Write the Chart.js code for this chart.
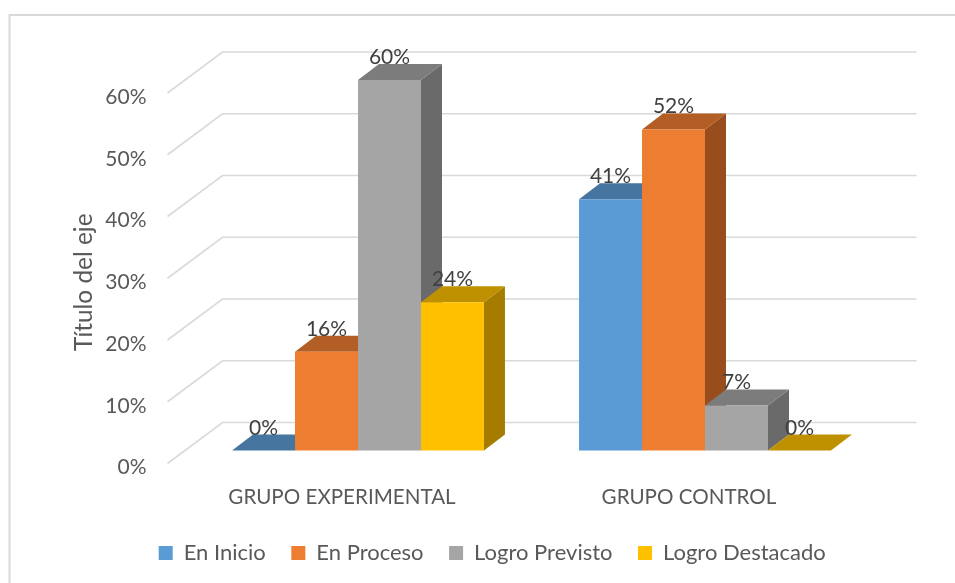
<!DOCTYPE html>
<html>
<head>
<meta charset="utf-8">
<title>Grupos</title>
<script src="https://cdn.jsdelivr.net/npm/chart.js@4"></script>
<style>
  html, body { margin: 0; padding: 0; background: #fff; }
  #wrap { width: 955px; height: 583px; }
</style>
</head>
<body>
<div id="wrap"><canvas id="chart" width="955" height="583"></canvas></div>
<script>
// valores (%)
var categories = ['GRUPO EXPERIMENTAL', 'GRUPO CONTROL'];
var seriesNames = ['En Inicio', 'En Proceso', 'Logro Previsto', 'Logro Destacado'];
var enInicio = [0, 40.7];
var enProceso = [16, 52];
var logroPrevisto = [60, 7.3];
var logroDestacado = [24, 0];

var frontColors = ['#5B9BD5', '#ED7D31', '#A5A5A5', '#FFC000'];
var topColors = ['#4675A0', '#B25E25', '#7C7C7C', '#BF9000'];
var sideColors = ['#3C6690', '#984E1C', '#6A6A6A', '#A67C00'];

var FONT = 'Lato, "Open Sans", sans-serif';
var DEPTH_X = 21, DEPTH_Y = 16;     // fondo de cada barra
var LABEL_DY = -4;                  // las etiquetas del eje quedan algo debajo de la rejilla
var BAR_DX = 16, BAR_DY = -17;      // plano de las barras respecto al eje
var WALL_DX = 54, WALL_DY = -41;    // pared del fondo respecto al frente de la rejilla

function poly(ctx, pts, color) {
  ctx.fillStyle = color;
  ctx.beginPath();
  ctx.moveTo(pts[0][0], pts[0][1]);
  for (var i = 1; i < pts.length; i++) ctx.lineTo(pts[i][0], pts[i][1]);
  ctx.closePath();
  ctx.fill();
}

var frame3d = {
  id: 'frame3d',
  afterLayout: function (chart) {
    var lg = chart.legend;
    lg.left += 26; lg.right += 26;
    lg.top -= 9; lg.bottom -= 9;
  },
  beforeDraw: function (chart) {
    var ctx = chart.ctx;
    var y = chart.scales.y;
    var a = chart.chartArea;
    ctx.save();
    ctx.strokeStyle = '#D9D9D9';
    ctx.lineWidth = 2;
    ctx.beginPath();
    ctx.moveTo(9.5, 583);
    ctx.lineTo(9.5, 15);
    ctx.lineTo(955, 15);
    ctx.stroke();
    ctx.lineWidth = 1.6;
    y.ticks.forEach(function (t) {
      var py = y.getPixelForValue(t.value) + LABEL_DY;
      ctx.beginPath();
      ctx.moveTo(a.left - 1, py);
      ctx.lineTo(a.left + WALL_DX, py + WALL_DY);
      ctx.lineTo(a.right + WALL_DX, py + WALL_DY);
      ctx.stroke();
    });
    ctx.restore();
  },
  // chart.js pinta los datasets al reves, aqui se pintan de izquierda a derecha
  beforeDatasetsDraw: function (chart) {
    var ctx = chart.ctx;
    ctx.save();
    ctx.translate(BAR_DX, BAR_DY);
    chart.data.datasets.forEach(function (ds, i) {
      var meta = chart.getDatasetMeta(i);
      meta.data.forEach(function (bar) {
        var l = bar.x - bar.width / 2, r = bar.x + bar.width / 2;
        var t = bar.y, b = bar.base;
        if (b > t) {
          poly(ctx, [[r, t], [r + DEPTH_X, t - DEPTH_Y], [r + DEPTH_X, b - DEPTH_Y], [r, b]], sideColors[i]);
        }
        poly(ctx, [[l, t], [r, t], [r + DEPTH_X, t - DEPTH_Y], [l + DEPTH_X, t - DEPTH_Y]], topColors[i]);
      });
      meta.controller.draw();
    });
    ctx.fillStyle = '#404040';
    ctx.font = '21px ' + FONT;
    ctx.textAlign = 'center';
    ctx.textBaseline = 'alphabetic';
    chart.data.datasets.forEach(function (ds, i) {
      chart.getDatasetMeta(i).data.forEach(function (bar, j) {
        ctx.fillText(Math.round(ds.data[j]) + '%', bar.x, bar.y - DEPTH_Y);
      });
    });
    ctx.restore();
  },
  beforeDatasetDraw: function () {
    return false;
  }
};

function dataset(i, values) {
  return {
    label: seriesNames[i],
    data: values,
    backgroundColor: frontColors[i],
    borderWidth: 0,
    clip: false,
    categoryPercentage: 0.726,
    barPercentage: 1
  };
}

new Chart(document.getElementById('chart').getContext('2d'), {
  type: 'bar',
  data: {
    labels: categories,
    datasets: [
      dataset(0, enInicio),
      dataset(1, enProceso),
      dataset(2, logroPrevisto),
      dataset(3, logroDestacado)
    ]
  },
  options: {
    responsive: false,
    animation: false,
    layout: { padding: { top: 97, left: 70, right: 92.5, bottom: 0 } },
    scales: {
      x: {
        grid: { display: false },
        border: { display: false },
        afterFit: function (s) { s.height = 58; },
        ticks: { color: '#595959', font: { family: FONT, size: 20.6 }, padding: 9, maxRotation: 0 }
      },
      y: {
        min: 0,
        max: 60,
        grid: { display: false, drawTicks: false },
        border: { display: false },
        afterFit: function (s) { s.width = 98.5; },
        ticks: {
          stepSize: 10,
          color: '#595959',
          font: { family: FONT, size: 21 },
          padding: 22,
          callback: function (v) { return v + '%'; }
        },
        title: { display: true, text: 'Título del eje', color: '#595959', font: { family: FONT, size: 24.4 }, padding: 0 }
      }
    },
    plugins: {
      legend: {
        position: 'bottom',
        labels: {
          boxWidth: 14,
          boxHeight: 14,
          padding: 25.5,
          color: '#595959',
          font: { family: FONT, size: 22 }
        }
      },
      tooltip: { enabled: false }
    }
  },
  plugins: [frame3d]
});
</script>
</body>
</html>
